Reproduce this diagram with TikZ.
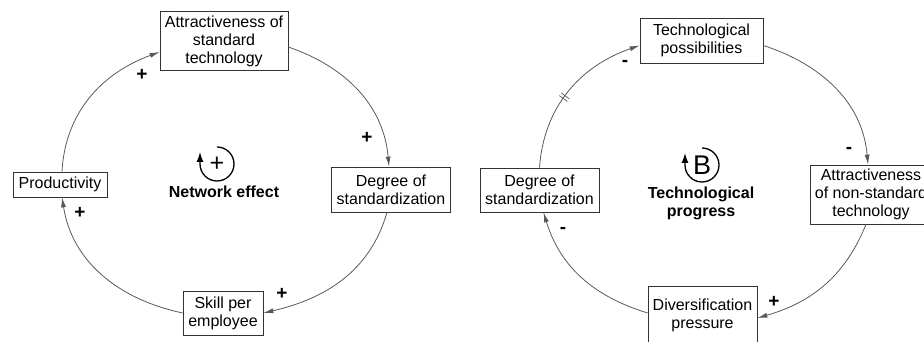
\documentclass[tikz,border=0pt]{standalone}
\usepackage{fontspec}
\setmainfont{Liberation Sans}
\usetikzlibrary{arrows.meta,positioning}

\begin{document}
\begin{tikzpicture}[x=1pt,y=1pt,
  var/.style={draw=black!80,fill=white,line width=.7pt,align=center,inner sep=2pt,font=\fontsize{16}{18}\selectfont},
  link/.style={draw=black!65,line width=.8pt,-{Latex[length=10pt,width=5pt]}},
  pol/.style={font=\bfseries\fontsize{19}{19}\selectfont,inner sep=0pt},
  title/.style={font=\bfseries\fontsize{16}{18}\selectfont,align=center},
  loopsign/.style={font=\fontsize{25}{25}\selectfont,inner sep=0pt},
  loopline/.style={line width=1.3pt,-{Latex[length=10pt,width=7pt]}}]
\useasboundingbox (0,0) rectangle (924,342);

\begin{scope}
\node[var,minimum width=128pt,minimum height=59pt] (attS) at (224,301) {Attractiveness of\\standard\\technology};
\node[var,minimum width=119pt,minimum height=45pt] (degL) at (391,152.5) {Degree of\\standardization};
\node[var,minimum width=80pt,minimum height=44pt] (skill) at (223,29) {Skill per\\employee};
\node[var,minimum width=94pt,minimum height=25pt] (prod) at (60,157.5) {Productivity};

\draw[link] ([yshift=-6pt]attS.east) to[out=-19,in=95] ([xshift=-2pt]degL.north);
\draw[link] ([xshift=-4pt]degL.south) to[out=-106,in=13] (skill.east);
\draw[link] (skill.west) to[out=168,in=-81] ([xshift=2pt]prod.south);
\draw[link] ([xshift=2pt]prod.north) to[out=87,in=200] ([yshift=-11pt]attS.west);

\node[pol] (pA) at (142,267) {+};
\node[pol] (pB) at (367,204) {+};
\node[pol] (pC) at (282,48) {+};
\node[pol] (pD) at (80,129) {+};

\node[loopsign] (loopR) at (217,178) {+};
\draw[loopline] ([yshift=17pt]loopR.center) arc[start angle=90,end angle=-180,radius=17pt] -- ++(0,12pt);
\node[title] (netw) at (224,150) {Network effect};
\end{scope}

\begin{scope}
\node[var,minimum width=123pt,minimum height=45pt] (tech) at (701.5,301.5) {Technological\\possibilities};
\node[var,minimum width=122pt,minimum height=59pt] (attN) at (871,147.5) {Attractiveness\\of non-standard\\technology};
\node[var,minimum width=109pt,minimum height=58pt] (div) at (702.5,27) {Diversification\\pressure};
\node[var,minimum width=119pt,minimum height=44pt] (degR) at (539.5,152) {Degree of\\standardization};

\draw[link] ([yshift=-5pt]tech.east) to[out=-18,in=95] ([xshift=-3pt]attN.north);
\draw[link] ([xshift=-5pt]attN.south) to[out=-112,in=16] ([yshift=-3pt]div.east);
\draw[link] ([yshift=2pt]div.west) to[out=163,in=-73] ([xshift=4pt]degR.south);
\draw[link] (degR.north) to[out=86,in=199]
  node[pos=.45,sloped,inner sep=0pt,text=black!65] (dly) {\rule{.7pt}{10pt}\hspace{2.5pt}\rule{.7pt}{10pt}}
  ([yshift=-5pt]tech.west);

\node[pol] (qA) at (625,279) {-};
\node[pol] (qB) at (849,192) {-};
\node[pol] (qC) at (774,40) {+};
\node[pol] (qD) at (563,112) {-};

\node[loopsign,font=\fontsize{27}{27}\selectfont] (loopB) at (702,177) {B};
\draw[loopline] ([yshift=17pt]loopB.center) arc[start angle=90,end angle=-180,radius=17pt] -- ++(0,12pt);
\node[title] (tprog) at (701,139) {Technological\\progress};
\end{scope}
\end{tikzpicture}
\end{document}
